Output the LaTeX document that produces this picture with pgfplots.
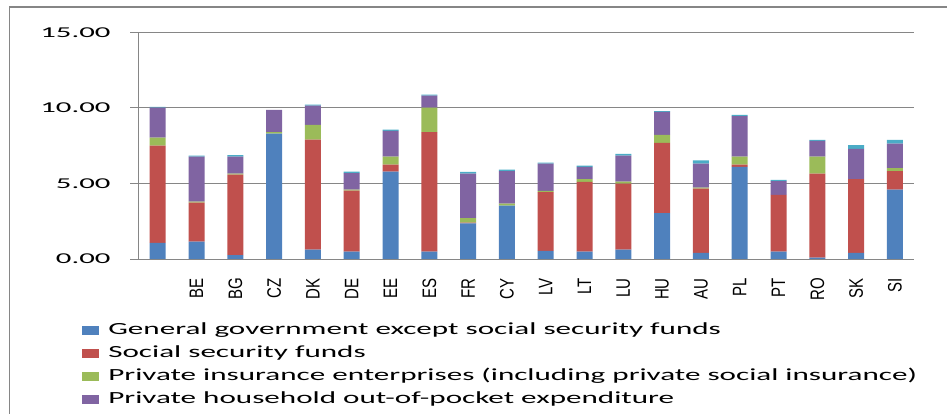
\documentclass[border=0pt]{standalone}
\usepackage{graphicx}
\usepackage{fontspec}
\setmainfont{Carlito}
\newfontfamily\lib{Liberation Sans}
\usepackage{pgfplots}
\pgfplotsset{compat=1.18}
\usepackage{pgfplotstable}
\definecolor{cblue}{HTML}{4F81BD}
\definecolor{cred}{HTML}{C0504D}
\definecolor{cgreen}{HTML}{9BBB59}
\definecolor{cpurple}{HTML}{8064A2}
\definecolor{cteal}{HTML}{4BACC6}
\definecolor{gridgray}{HTML}{868686}
\newcommand\ys[1]{\scalebox{2.05}[1]{#1}}
\newcommand\xl[1]{\rotatebox{90}{\scalebox{1}[1.3]{#1}}}
\newcommand\lt[1]{\scalebox{1.83}[1]{#1}}
\pgfplotstableread{
x blue red green purple teal
0 1.06 6.44 0.53 1.98 0.05
1 1.15 2.58 0.06 2.98 0.07
2 0.26 5.32 0.07 1.12 0.11
3 8.29 0.00 0.11 1.46 0.00
4 0.62 7.28 0.97 1.28 0.06
5 0.49 4.03 0.07 1.10 0.09
6 5.78 0.46 0.53 1.70 0.09
7 0.49 7.91 1.61 0.80 0.06
8 2.36 0.04 0.31 2.94 0.11
9 3.53 0.00 0.13 2.16 0.09
10 0.53 3.90 0.07 1.81 0.06
11 0.49 4.61 0.19 0.80 0.09
12 0.62 4.37 0.13 1.72 0.11
13 3.04 4.64 0.53 1.52 0.06
14 0.40 4.25 0.07 1.59 0.22
15 6.09 0.15 0.53 2.69 0.07
16 0.49 3.75 0.00 0.92 0.07
17 0.09 5.56 1.12 1.04 0.07
18 0.40 4.89 0.00 1.99 0.26
19 4.59 1.23 0.20 1.61 0.25
}\datatable
\begin{document}
\begin{tikzpicture}
\useasboundingbox (0,0) rectangle (947bp,414bp);
\draw[color=gridgray, line width=1.6bp] (9.5bp,-5bp) -- (9.5bp,407bp) -- (960bp,407bp);
\begin{axis}[
  at={(138.3bp,155bp)}, anchor=south west,
  scale only axis, width=776bp, height=226.7bp,
  xmin=-0.5, xmax=19.5, ymin=0, ymax=15,
  enlargelimits=false,
  ybar stacked, bar width=16bp,
  axis x line*=bottom, axis y line*=left,
  axis line style={color=gridgray, line width=0.8bp},
  ymajorgrids, grid style={color=gridgray, line width=0.8bp},
  tick align=outside,
  major tick length=8bp, minor tick length=8bp,
  ytick={0,5,10,15},
  yticklabels={\ys{0.00},\ys{5.00},\ys{10.00},\ys{15.00}},
  ytick style={color=gridgray, line width=0.8bp},
  yticklabel style={font=\fontsize{15bp}{17bp}\selectfont, anchor=east, inner sep=0pt, xshift=-19.6bp},
  xtick={0,...,19},
  xticklabels={,\xl{BE},\xl{BG},\xl{CZ},\xl{DK},\xl{DE},\xl{EE},\xl{ES},\xl{FR},\xl{CY},\xl{LV},\xl{LT},\xl{LU},\xl{HU},\xl{AU},\xl{PL},\xl{PT},\xl{RO},\xl{SK},\xl{SI}},
  xtick style={draw=none},
  minor xtick={-0.5,0.5,...,19.5},
  minor x tick style={color=gridgray, line width=0.8bp},
  xticklabel style={anchor=north, inner sep=0pt, yshift=-11bp, font=\lib\fontsize{15bp}{17bp}\selectfont},
  legend style={draw=none, fill=none, inner sep=0pt,
    at={(axis description cs:-0.0729,-0.284)}, anchor=north west,
    font=\fontsize{17bp}{20bp}\selectfont, row sep=8.5bp, column sep=9.7bp,
    nodes={inner sep=0pt, text height=11bp, text depth=3.5bp}},
  legend cell align=left,
  legend image code/.code={\fill[#1] (0bp,-4.65bp) rectangle (16.7bp,4.65bp);},
]
\addplot[fill=cblue, draw=none] table[x=x,y=blue]{\datatable};
\addplot[fill=cred, draw=none] table[x=x,y=red]{\datatable};
\addplot[fill=cgreen, draw=none] table[x=x,y=green]{\datatable};
\addplot[fill=cpurple, draw=none] table[x=x,y=purple]{\datatable};
\addplot[fill=cteal, draw=none, forget plot] table[x=x,y=teal]{\datatable};
\legend{\lt{General government except social security funds},\lt{Social security funds},\lt{Private insurance enterprises (including private social insurance)},\lt{Private household out-of-pocket expenditure}}
\end{axis}
\end{tikzpicture}
\end{document}
